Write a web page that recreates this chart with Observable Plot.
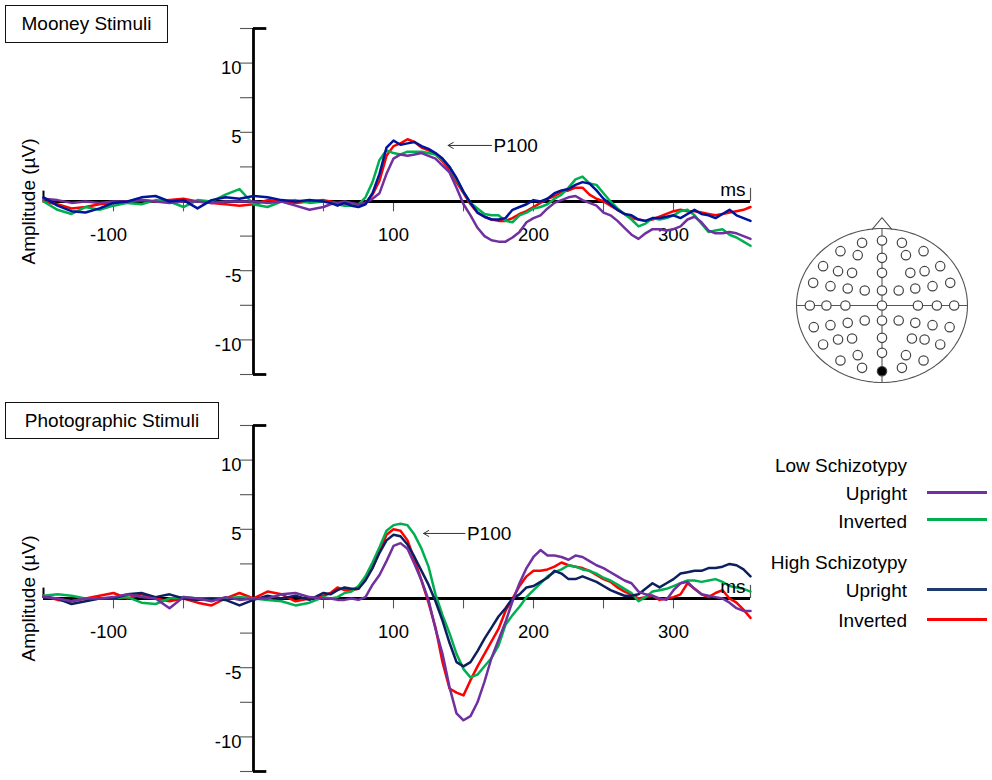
<!DOCTYPE html>
<html><head><meta charset="utf-8">
<script src="https://cdn.jsdelivr.net/npm/d3@7"></script>
<script src="https://cdn.jsdelivr.net/npm/@observablehq/plot@0.6"></script>
<style>
body{margin:0;background:#fff;}
#root{position:relative;width:992px;height:780px;overflow:hidden;font-family:"Liberation Sans",Arial,sans-serif;color:#000;background:#fff;}
.box{position:absolute;border:1.5px solid #111;box-sizing:border-box;font-size:19px;display:flex;align-items:center;justify-content:center;background:#fff;z-index:2;}
.slot{position:absolute;}
.leg{position:absolute;font-size:19px;white-space:nowrap;line-height:19px;height:19px;text-align:right;}
.swatch{position:absolute;height:3px;}
</style></head>
<body><div id="root"></div>
<script>
// ---- time grid (ms) ----
const times = [-150,-140,-130,-120,-110,-100,-90,-80,-70,-60,-50,-40,-30,-20,-10,0,10,20,30,40,50,
  55,60,65,70,75,80,85,90,95,100,105,110,115,120,125,130,135,140,145,150,155,160,165,170,175,180,185,190,195,
  200,205,210,215,220,225,230,235,240,245,250,255,260,265,270,275,280,285,290,295,300,305,310,315,320,325,330,335,340,345,350,355];

// ---- Mooney stimuli (µV) ----
const mooneyLowUpright = [0.2,0.1,-0.1,0.0,-0.1,0.0,0.0,0.1,0.0,-0.1,0.0,0.0,-0.1,0.0,0.0,0.0,-0.1,0.0,-0.3,-0.6,-0.4,
  -0.2,-0.1,0.0,-0.1,-0.2,-0.1,0.2,0.6,2.0,3.1,3.4,3.3,3.4,3.5,3.3,3.1,2.6,2.1,1.0,-0.2,-1.0,-1.9,-2.5,-2.8,-2.9,-2.9,-2.6,-2.2,-1.5,
  -1.2,-1.0,-0.5,-0.1,0.1,0.3,0.4,0.1,-0.1,-0.3,-0.8,-1.0,-1.4,-1.9,-2.4,-2.7,-2.3,-2.0,-2.0,-2.1,-2.0,-1.8,-1.3,-1.1,-1.5,-2.1,-2.3,-2.3,-2.2,-2.3,-2.5,-2.7];
const mooneyLowInverted = [0.0,-0.6,-0.9,-0.4,-0.6,-0.3,-0.1,-0.2,0.1,0.0,-0.4,0.1,0.0,0.5,0.9,-0.2,-0.4,0.0,0.1,-0.1,0.0,
  -0.1,-0.2,-0.3,-0.3,-0.2,0.3,1.4,3.0,3.7,3.5,3.4,3.6,3.6,3.6,3.5,3.4,3.0,2.5,1.6,0.7,-0.1,-0.5,-0.9,-1.0,-1.0,-1.4,-1.5,-1.0,-0.8,
  -0.5,-0.4,-0.2,0.2,0.5,1.0,1.6,1.8,1.3,1.2,0.6,0.0,-0.5,-0.9,-1.3,-1.8,-1.6,-1.2,-1.3,-1.2,-1.0,-0.7,-0.6,-1.0,-1.6,-2.2,-2.1,-2.0,-2.4,-2.6,-2.9,-3.2];
const mooneyHighUpright = [0.3,-0.3,-0.7,-0.8,-0.5,-0.1,0.0,0.3,0.4,0.0,0.1,-0.5,0.1,0.3,0.2,0.4,0.3,0.1,0.0,0.1,0.0,
  -0.1,-0.3,-0.1,-0.3,-0.4,-0.2,0.6,2.0,3.9,4.4,4.1,4.2,4.3,4.0,3.8,3.5,3.1,2.5,1.7,0.7,-0.1,-0.8,-1.1,-1.3,-1.3,-1.2,-0.6,-0.4,-0.2,
  0.1,0.0,0.2,0.6,0.8,0.9,1.2,1.4,1.3,0.8,0.2,-0.2,-0.6,-0.9,-1.0,-1.3,-1.4,-1.2,-1.2,-1.1,-1.0,-1.2,-0.9,-0.6,-0.9,-1.0,-1.2,-0.9,-0.6,-1.0,-1.2,-1.4];
const mooneyHighInverted = [0.0,-0.2,-0.5,-0.4,-0.2,-0.1,0.0,0.1,0.0,0.1,0.2,0.0,-0.1,-0.2,-0.3,-0.2,0.1,0.0,-0.1,0.0,0.1,
  0.0,-0.1,-0.2,-0.2,-0.2,-0.1,0.5,1.5,3.3,4.0,4.2,4.5,4.3,3.9,3.7,3.4,2.9,2.3,1.4,0.6,-0.2,-0.8,-1.1,-1.3,-1.4,-1.4,-1.2,-0.9,-0.7,
  -0.4,-0.1,0.2,0.4,0.7,0.8,1.0,1.0,0.5,0.2,0.0,-0.3,-0.6,-0.9,-1.2,-1.3,-1.4,-1.3,-1.1,-0.9,-0.7,-0.6,-0.7,-0.7,-0.8,-0.9,-1.0,-0.9,-0.8,-0.7,-0.6,-0.4];

// ---- Photographic stimuli (µV) ----
const photoLowUpright = [0.1,0.0,-0.2,0.0,0.0,0.1,0.3,0.1,0.0,-0.7,0.1,0.0,-0.2,0.1,-0.1,0.0,0.0,0.3,0.4,0.1,0.0,
  0.0,-0.1,-0.1,0.0,-0.1,0.1,1.0,1.7,2.7,3.8,4.0,3.6,2.5,1.3,-0.1,-2.2,-4.0,-6.4,-8.3,-8.8,-8.5,-7.5,-6.0,-4.3,-3.0,-1.7,-0.2,1.1,2.2,
  3.0,3.5,3.1,3.1,3.0,2.8,3.1,3.0,2.7,2.4,2.2,1.9,1.6,1.3,1.1,0.5,0.3,0.2,0.0,-0.1,0.6,1.1,1.2,0.7,0.3,0.2,0.1,0.0,-0.3,-0.7,-0.9,-0.9];
const photoLowInverted = [0.2,0.3,0.2,0.0,0.0,0.0,0.1,-0.3,-0.4,0.0,0.1,0.0,0.0,0.0,0.1,0.0,-0.1,-0.2,-0.5,-0.3,0.1,
  0.0,0.1,0.4,0.5,0.9,1.6,2.6,3.7,4.9,5.3,5.4,5.3,4.6,3.6,2.3,0.3,-1.2,-2.5,-4.0,-5.1,-5.7,-5.5,-4.9,-4.3,-3.4,-1.9,-1.2,-0.6,0.1,
  0.6,1.1,1.6,1.9,2.1,2.4,2.3,2.1,2.0,1.8,1.5,1.3,1.0,0.7,0.4,-0.2,0.1,0.5,0.6,0.7,0.9,1.1,1.3,1.3,1.2,1.3,1.4,1.2,0.9,0.8,0.7,0.5];
const photoHighUpright = [0.1,0.0,-0.4,-0.2,0.0,0.0,0.3,0.4,0.1,0.3,0.0,-0.1,0.0,-0.1,-0.5,-0.1,0.2,0.0,0.2,-0.1,0.4,
  0.3,0.6,0.8,0.7,0.7,1.3,2.2,3.3,4.2,4.6,4.5,3.9,3.0,2.0,1.0,-0.2,-1.6,-3.2,-4.6,-4.9,-4.6,-3.8,-2.9,-2.1,-1.3,-0.7,0.0,0.3,0.8,
  0.9,1.2,1.5,2.0,1.8,1.4,1.4,1.6,1.4,1.2,0.9,0.6,0.4,0.2,0.2,0.3,0.7,1.1,0.8,1.1,1.4,1.8,1.9,2.0,2.0,2.2,2.2,2.3,2.5,2.4,2.1,1.6];
const photoHighInverted = [0.2,-0.1,-0.2,0.0,0.2,0.4,0.0,0.3,0.0,-0.2,0.0,-0.3,-0.5,0.0,0.4,0.0,0.5,0.3,-0.2,0.0,0.2,
  0.4,0.8,0.6,0.6,0.7,1.5,2.2,3.4,4.6,5.0,4.9,4.2,2.8,1.3,-0.3,-2.1,-4.6,-6.5,-6.8,-7.0,-5.9,-4.9,-4.0,-3.1,-2.2,-0.9,0.0,0.9,1.6,
  2.0,2.0,2.1,2.3,2.6,2.4,2.3,2.2,2.0,1.7,1.4,1.2,0.8,0.5,0.3,0.0,0.1,0.2,-0.1,0.0,0.1,0.3,1.1,0.7,0.3,0.1,0.4,0.6,0.0,-0.3,-0.8,-1.4];

// ---- axes ticks ----
const yMajor = [10, 5, -5, -10];
const yMinor = [12.5, 10, 7.5, 5, 2.5, -2.5, -5, -7.5, -10, -12.5];
const xTickVals = [-100, -50, 50, 100, 150, 200, 250, 300];
const xLabelVals = [-100, 100, 200, 300];

// ---- annotations ----
const mooneyP100 = [{from: 170, to: 139, amp: 4.05, label: "P100"}];
const photoP100 = [{from: 151, to: 121.5, amp: 4.7, label: "P100"}];

// ---- electrode montage (head coordinates) ----
const elecU = [0,-0.233,0.233,-0.486,0.486,-0.284,0.28,0,-0.689,0.681,-0.514,-0.35,0.331,0.498,0,-0.805,0.798,
  -0.603,-0.401,-0.202,0,0.195,0.389,0.591,-0.844,-0.65,-0.428,0,0.42,0.642,0.844,
  -0.798,-0.603,-0.401,-0.202,0,0.195,0.389,0.591,0.791,-0.689,-0.514,-0.35,0,0.35,0.498,0.681,0,-0.284,0.28,-0.486,0.486,-0.233,0.233,0];
const elecV = [-0.844,-0.814,-0.814,-0.706,-0.706,-0.654,-0.654,-0.619,-0.511,-0.511,-0.446,-0.424,-0.424,-0.446,-0.424,-0.294,-0.294,
  -0.251,-0.221,-0.195,-0.195,-0.195,-0.221,-0.251,0,0,0,0,0,0,0,
  0.281,0.255,0.225,0.195,0.195,0.195,0.225,0.255,0.281,0.506,0.442,0.429,0.42,0.429,0.442,0.506,0.615,0.645,0.645,0.714,0.714,0.81,0.81,0.853];
const activeElectrode = 54;

const C = {purple: "#7030A0", green: "#00B050", navyTop: "#00149a", navyBottom: "#0c1f5e", red: "#FF0000", legNavy: "#1F3A6E"};
const FONT = '"Liberation Sans", Arial, sans-serif';

function series(values) { return times.map((t, i) => ({t, v: values[i]})); }

function panel(lines, ann) {
  return Plot.plot({
    width: 760, height: 390,
    marginLeft: 43, marginRight: 10, marginTop: 28, marginBottom: 16,
    x: {domain: [-150, 355], axis: null},
    y: {domain: [-12.5, 12.5], axis: null},
    style: {fontFamily: FONT, fontSize: "18.5px", background: "transparent", overflow: "visible", color: "#000"},
    marks: [
      Plot.ruleY(yMinor, {y: d => d, x1: -9.3, x2: 0, stroke: "#555", strokeWidth: 1.1}),
      Plot.ruleX(xTickVals, {x: d => d, y1: 0, y2: -0.75, stroke: "#555", strokeWidth: 1.1}),
      Plot.ruleX([0], {y1: -12.5, y2: 12.5, stroke: "#000", strokeWidth: 2.8}),
      Plot.ruleY([12.5, -12.5], {y: d => d, x1: 0, x2: 9.5, stroke: "#000", strokeWidth: 2.8}),
      Plot.ruleY([0], {x1: -150, x2: 355, stroke: "#000", strokeWidth: 2.8}),
      Plot.ruleX([-150], {y1: 0, y2: 0.75, stroke: "#000", strokeWidth: 2}),
      Plot.ruleX([355], {y1: 0, y2: 0.95, stroke: "#555", strokeWidth: 1.2}),
      Plot.text(yMajor, {x: 0, y: d => d, text: d => String(d), textAnchor: "end", dx: -12, dy: 5, fontSize: 18.5}),
      Plot.text(xLabelVals.filter(d => d < 0), {x: d => d, y: 0, text: d => String(d), dy: 34, dx: -5, fontSize: 18.5}),
      Plot.text(xLabelVals.filter(d => d > 0), {x: d => d, y: 0, text: d => String(d), dy: 34, fontSize: 18.5}),
      Plot.text(["Amplitude (µV)"], {x: -150, y: 0, text: d => d, rotate: -90, dx: -15, fontSize: 19}),
      ...lines.map(l => Plot.line(series(l.values), {x: "t", y: "v", stroke: l.color, strokeWidth: 2.5, strokeLinejoin: "round"})),
      Plot.text(["ms"], {x: 355, y: 0, text: d => d, textAnchor: "end", dx: -5, dy: -12, fontSize: 19}),
      Plot.arrow(ann, {x1: "from", y1: "amp", x2: "to", y2: "amp", stroke: "#333", strokeWidth: 1, headLength: 9}),
      Plot.text(ann, {x: "from", y: "amp", text: "label", textAnchor: "start", dx: 2, fontSize: 19})
    ]
  });
}

const root = document.getElementById("root");
function slot(left, top, node) {
  const d = document.createElement("div");
  d.className = "slot"; d.style.left = left + "px"; d.style.top = top + "px";
  d.appendChild(node); root.appendChild(d); return d;
}
function box(left, top, w, h, text) {
  const d = document.createElement("div");
  d.className = "box"; Object.assign(d.style, {left: left + "px", top: top + "px", width: w + "px", height: h + "px"});
  d.textContent = text; root.appendChild(d);
}

slot(0, 0, panel([
  {values: mooneyHighInverted, color: C.red},
  {values: mooneyLowInverted, color: C.green},
  {values: mooneyLowUpright, color: C.purple},
  {values: mooneyHighUpright, color: C.navyTop}
], mooneyP100));
slot(0, 397, panel([
  {values: photoHighInverted, color: C.red},
  {values: photoLowInverted, color: C.green},
  {values: photoHighUpright, color: C.navyBottom},
  {values: photoLowUpright, color: C.purple}
], photoP100));

box(5, 5, 163, 38, "Mooney Stimuli");
box(5, 402, 214, 37, "Photographic Stimuli");

// ---- head map ----
const montage = elecU.map((u, i) => ({u, v: elecV[i], active: i === activeElectrode}));
const outline = d3.range(0, 361, 4).map(a => ({u: Math.cos(a * Math.PI / 180), v: Math.sin(a * Math.PI / 180)}));
const nose = [{u: -0.115, v: -0.99}, {u: 0, v: -1.14}, {u: 0.115, v: -0.99}];
slot(770, 205, Plot.plot({
  width: 220, height: 200, marginLeft: 26, marginRight: 23, marginTop: 23, marginBottom: 23,
  x: {domain: [-1, 1], axis: null},
  y: {domain: [-1, 1], reverse: true, axis: null},
  style: {background: "transparent", overflow: "visible"},
  marks: [
    Plot.line(outline, {x: "u", y: "v", stroke: "#555", strokeWidth: 1.1}),
    Plot.line(nose, {x: "u", y: "v", stroke: "#555", strokeWidth: 1.1}),
    Plot.ruleY([0], {x1: -1, x2: 1, stroke: "#555", strokeWidth: 1.1}),
    Plot.ruleX([0], {y1: -1, y2: 1, stroke: "#555", strokeWidth: 1.1}),
    Plot.dot(montage, {x: "u", y: "v", r: 4.7, fill: d => d.active ? "#000" : "#fff", stroke: "#444", strokeWidth: 1.2})
  ]
}));

// ---- legend ----
const legendRows = [
  {label: "Low Schizotypy", y: 465},
  {label: "Upright", y: 493, color: C.purple, ly: 492},
  {label: "Inverted", y: 521, color: C.green, ly: 519},
  {label: "High Schizotypy", y: 562},
  {label: "Upright", y: 590, color: C.legNavy, ly: 589},
  {label: "Inverted", y: 620, color: C.red, ly: 619}
];
legendRows.forEach(r => {
  const t = document.createElement("div");
  t.className = "leg"; t.style.right = (992 - 907) + "px"; t.style.top = (r.y - 9.5) + "px";
  t.textContent = r.label; root.appendChild(t);
  if (r.color) {
    const s = document.createElement("div");
    s.className = "swatch"; Object.assign(s.style, {left: "927px", width: "60px", top: (r.ly - 1.5) + "px", background: r.color});
    root.appendChild(s);
  }
});
</script></body></html>
